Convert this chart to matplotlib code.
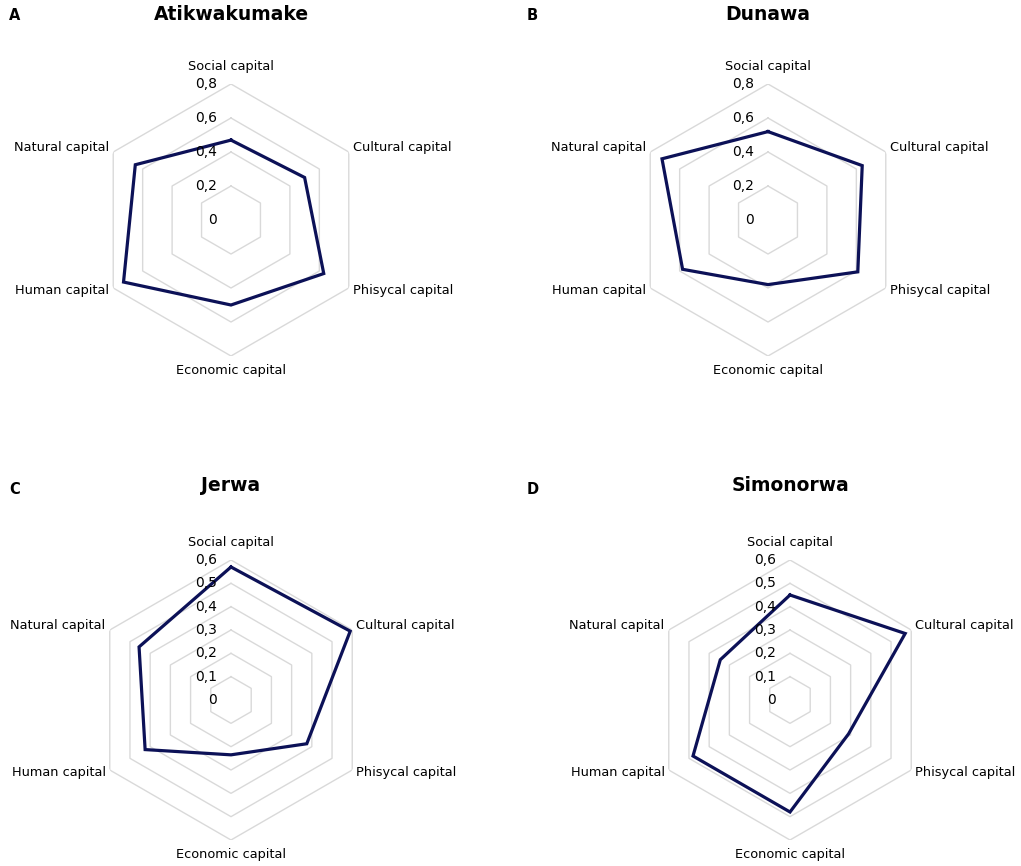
import numpy as np
import matplotlib
matplotlib.use("Agg")
import matplotlib.pyplot as plt

# categorii (in sensul acelor de ceasornic, incepand de sus)
categories = ["Social capital", "Cultural capital", "Phisycal capital",
              "Economic capital", "Human capital", "Natural capital"]

# valori
atikwakumake = [0.47, 0.50, 0.63, 0.50, 0.73, 0.65]
dunawa = [0.52, 0.64, 0.61, 0.38, 0.58, 0.72]
jerwa = [0.57, 0.59, 0.375, 0.235, 0.425, 0.455]
simonorwa = [0.45, 0.57, 0.29, 0.48, 0.48, 0.345]

ticks_a = [0, 0.2, 0.4, 0.6, 0.8]
ticks_c = [0, 0.1, 0.2, 0.3, 0.4, 0.5, 0.6]

W, H = 1021, 866
LINE = "#0c1157"
GRID = "#d9d9d9"

fig = plt.figure(figsize=(W / 100, H / 100), dpi=100)
fig.patch.set_facecolor("white")

angles = np.linspace(0, 2 * np.pi, len(categories), endpoint=False)
angles_c = np.append(angles, angles[0])


def radar(cx, cy, rad, values, ticks, title, letter, lx):
    ax = fig.add_axes([(cx - rad) / W, (H - cy - rad) / H, 2 * rad / W, 2 * rad / H],
                      projection="polar")
    ax.set_theta_offset(np.pi / 2)
    ax.set_theta_direction(-1)
    rmax = ticks[-1]
    ax.set_ylim(0, rmax)
    ax.grid(False)
    ax.spines["polar"].set_visible(False)
    ax.set_xticks([])
    ax.set_yticks([])
    ax.patch.set_alpha(0)

    # inele hexagonale
    for t in ticks[1:]:
        ax.plot(angles_c, [t] * 7, color=GRID, lw=1.0, zorder=1)
    # etichete axa
    for t in ticks:
        lab = ("%g" % t).replace(".", ",")
        ax.annotate(lab, xy=(0, t), xytext=(-10, 0), textcoords="offset points",
                    ha="right", va="center", fontsize=10, color="black", zorder=3)

    vals = np.append(values, values[0])
    ax.plot(angles_c, vals, color=LINE, lw=2.3, zorder=2, solid_joinstyle="miter")

    # etichete categorii
    offs = [(0, 8, "center", "bottom"), (3, 3, "left", "center"),
            (3, -2, "left", "center"), (0, -6, "center", "top"),
            (-3, -2, "right", "center"), (-3, 3, "right", "center")]
    for a, name, (dx, dy, ha, va) in zip(angles, categories, offs):
        ax.annotate(name, xy=(a, rmax), xytext=(dx, dy), textcoords="offset points",
                    ha=ha, va=va, fontsize=9.3, color="black", annotation_clip=False)

    fig.text(cx / W, 1 - 15 / H if cy < 400 else 1 - 485 / H, title,
             ha="center", va="center", fontsize=13.5, fontweight="bold")
    fig.text(lx / W, 1 - (15 / H if cy < 400 else 490 / H), letter,
             ha="left", va="center", fontsize=10.5, fontweight="bold")
    return ax


radar(231, 220, 136, atikwakumake, ticks_a, "Atikwakumake", "A", 9)
radar(768, 220, 136, dunawa, ticks_a, "Dunawa", "B", 527)
radar(231, 700, 140, jerwa, ticks_c, "Jerwa", "C", 9)
radar(790, 700, 140, simonorwa, ticks_c, "Simonorwa", "D", 527)

fig.savefig("out.png", dpi=100)
